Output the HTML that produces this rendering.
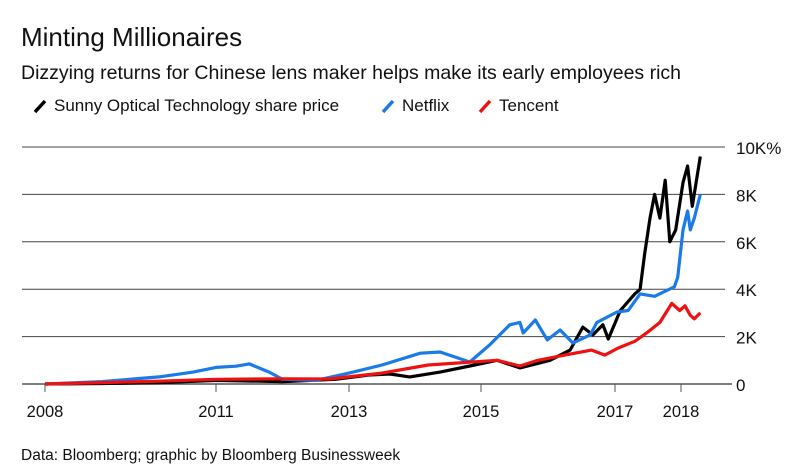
<!DOCTYPE html>
<html><head><meta charset="utf-8"><style>
body{margin:0;background:#fff;font-family:"Liberation Sans",sans-serif;}
svg{display:block}
</style></head><body>
<svg width="800" height="476" viewBox="0 0 800 476">
<text x="21" y="46" font-size="26" fill="#111">Minting Millionaires</text>
<text x="21" y="79" font-size="19.5" fill="#111">Dizzying returns for Chinese lens maker helps make its early employees rich</text>
<g>
<g><line x1="35" y1="112" x2="45" y2="101" stroke="#000" stroke-width="3.5"/><text x="54" y="111" font-size="17" fill="#111">Sunny Optical Technology share price</text></g>
<g><line x1="383" y1="112" x2="393" y2="101" stroke="#1a7be8" stroke-width="3.5"/><text x="402" y="111" font-size="17" fill="#111">Netflix</text></g>
<g><line x1="480" y1="112" x2="490" y2="101" stroke="#ee1111" stroke-width="3.5"/><text x="499" y="111" font-size="17" fill="#111">Tencent</text></g>
</g>
<g id="grid"></g>
<g id="series"></g>
<g id="xaxis"></g>
<text x="21" y="460" font-size="15.5" fill="#111">Data: Bloomberg; graphic by Bloomberg Businessweek</text>
</svg>
<script>
const yTicks=[0,2000,4000,6000,8000,10000];
const yTickLabels=["0","2K","4K","6K","8K","10K%"];
const xTickYears=[2008,2011,2013,2015,2017,2018];
const sunnyYears=[2008,2009,2010,2011,2012,2012.8,2013.3,2013.62,2013.92,2014.38,2014.83,2015.24,2015.58,2016.03,2016.33,2016.52,2016.67,2016.82,2016.9,2017.08,2017.3,2017.38,2017.45,2017.53,2017.6,2017.68,2017.76,2017.83,2017.92,2018.03,2018.1,2018.17,2018.29];
const sunnyVals=[0,20,60,150,100,200,380,420,300,500,760,1000,680,1000,1430,2400,2070,2500,1900,3100,3800,4000,5500,7000,8000,7000,8600,6000,6500,8500,9200,7500,9600];
const netflixYears=[2008,2009,2010,2010.6,2011,2011.3,2011.5,2011.8,2012,2012.5,2013,2013.5,2014.08,2014.38,2014.83,2015.13,2015.43,2015.58,2015.63,2015.81,2015.99,2016.18,2016.37,2016.63,2016.73,2017.03,2017.2,2017.38,2017.6,2017.9,2017.95,2018.03,2018.1,2018.14,2018.2,2018.29];
const netflixVals=[0,100,300,500,700,750,850,500,200,150,460,800,1300,1350,930,1650,2500,2600,2150,2700,1860,2280,1730,2070,2600,3040,3100,3800,3700,4100,4500,6500,7300,6500,7000,8000];
const tencentYears=[2008,2009,2010,2011,2012,2012.7,2013.5,2014.2,2015.24,2015.58,2015.85,2016.25,2016.65,2016.85,2017.05,2017.3,2017.5,2017.68,2017.86,2017.98,2018.06,2018.14,2018.2,2018.29];
const tencentVals=[0,60,120,200,220,210,460,800,1000,760,1000,1220,1430,1220,1520,1800,2200,2600,3400,3100,3300,2900,2750,3000];
const xTickPx=[45,216,349,481,615,681];
function x(yr){
  for(let i=0;i<xTickYears.length-1;i++){
    if(yr<=xTickYears[i+1]){const a=xTickYears[i],b=xTickYears[i+1];return xTickPx[i]+(yr-a)/(b-a)*(xTickPx[i+1]-xTickPx[i]);}
  }
  const n=xTickYears.length;return xTickPx[n-1]+(yr-xTickYears[n-1])*66.5;
}
function y(v){return 384-v/10000*237;}
const NS="http://www.w3.org/2000/svg";
const grid=document.getElementById('grid');
yTicks.forEach((t,i)=>{
  const l=document.createElementNS(NS,'line');
  l.setAttribute('x1',22);l.setAttribute('x2',i===0?732:725);
  l.setAttribute('y1',y(t));l.setAttribute('y2',y(t));
  l.setAttribute('stroke',i===0?'#555':'#444');l.setAttribute('stroke-width',i===0?1.5:1);
  
  
  grid.appendChild(l);
  const tx=document.createElementNS(NS,'text');
  tx.setAttribute('x',736);tx.setAttribute('y',y(t)+7);tx.setAttribute('font-size','17');tx.setAttribute('fill','#111');
  tx.textContent=yTickLabels[i];
  
  
  grid.appendChild(tx);
});
const xa=document.getElementById('xaxis');
xTickYears.forEach(yr=>{
  const l=document.createElementNS(NS,'line');
  l.setAttribute('x1',x(yr));l.setAttribute('x2',x(yr));l.setAttribute('y1',384);l.setAttribute('y2',392);
  l.setAttribute('stroke','#555');l.setAttribute('stroke-width',1);
  
  
  xa.appendChild(l);
  const tx=document.createElementNS(NS,'text');
  tx.setAttribute('x',x(yr));tx.setAttribute('y',417);tx.setAttribute('font-size','16.5');tx.setAttribute('text-anchor','middle');tx.setAttribute('fill','#111');
  tx.textContent=String(yr);
  
  
  xa.appendChild(tx);
});
const ser=document.getElementById('series');
function line(ys,vs,color,name){
  const p=document.createElementNS(NS,'path');
  p.setAttribute('d',ys.map((yr,i)=>(i?'L':'M')+x(yr).toFixed(1)+','+y(vs[i]).toFixed(1)).join(''));
  p.setAttribute('fill','none');p.setAttribute('stroke',color);p.setAttribute('stroke-width',3.2);p.setAttribute('stroke-linejoin','round');
  
  
  ser.appendChild(p);
}
line(sunnyYears,sunnyVals,'#000','sunny-optical-line');
line(netflixYears,netflixVals,'#1a7be8','netflix-line');
line(tencentYears,tencentVals,'#ee1111','tencent-line');
</script>
</body></html>
